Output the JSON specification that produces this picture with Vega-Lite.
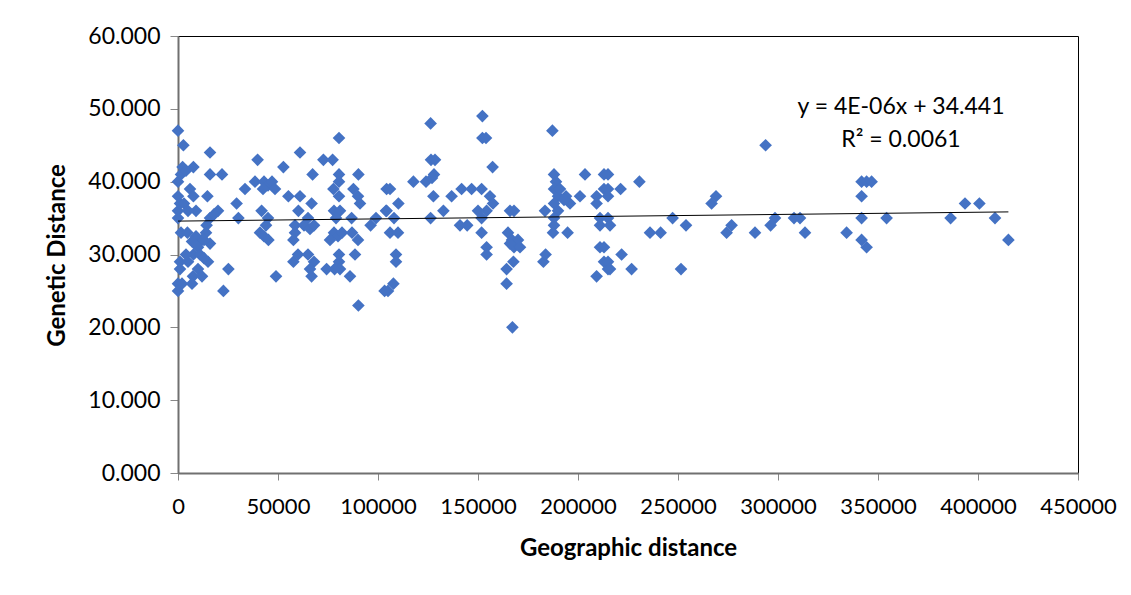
{
  "$schema": "https://vega.github.io/schema/vega-lite/v6.json",
  "autosize": {"type": "none"},
  "padding": {"left": 178, "top": 36, "right": 53, "bottom": 122},
  "width": 900,
  "height": 437,
  "background": "#ffffff",
  "config": {
    "view": {"stroke": "#000000", "strokeWidth": 1},
    "axis": {
      "grid": false,
      "domainColor": "#707070",
      "domainWidth": 2,
      "tickColor": "#888888",
      "tickSize": 7,
      "labelFont": "Lato",
      "labelFontSize": 22,
      "labelColor": "#000000",
      "titleFont": "Lato",
      "titleFontSize": 24,
      "titleFontWeight": "bold",
      "titleColor": "#000000"
    }
  },
  "datasets": {
    "pts": [
      {"geo":0,"gen":47},{"geo":2700,"gen":45},{"geo":16000,"gen":44},{"geo":2300,"gen":42},{"geo":7700,"gen":42},
      {"geo":0,"gen":40},{"geo":1500,"gen":41},{"geo":4000,"gen":41.5},{"geo":16000,"gen":41},{"geo":22000,"gen":41},
      {"geo":6000,"gen":39},{"geo":7700,"gen":38},{"geo":0,"gen":38},{"geo":14700,"gen":38},{"geo":0,"gen":36},
      {"geo":1000,"gen":37},{"geo":9000,"gen":36},{"geo":0,"gen":35},{"geo":20000,"gen":36},{"geo":16000,"gen":35},
      {"geo":14300,"gen":34},{"geo":1500,"gen":33},{"geo":4700,"gen":33},{"geo":9000,"gen":32.5},{"geo":12000,"gen":32},
      {"geo":14000,"gen":33},{"geo":16000,"gen":31.5},{"geo":7000,"gen":31.8},{"geo":10000,"gen":31},{"geo":13000,"gen":32},
      {"geo":7700,"gen":30},{"geo":15000,"gen":29},{"geo":1000,"gen":29},{"geo":1000,"gen":28},{"geo":5000,"gen":29},
      {"geo":10000,"gen":28},{"geo":7500,"gen":27},{"geo":12000,"gen":27},{"geo":0,"gen":26},{"geo":2000,"gen":26},
      {"geo":7000,"gen":26},{"geo":0,"gen":25},{"geo":25200,"gen":28},{"geo":22700,"gen":25},{"geo":3000,"gen":37},
      {"geo":5000,"gen":36},{"geo":18000,"gen":35.5},{"geo":11000,"gen":30},{"geo":13000,"gen":29.5},{"geo":4000,"gen":30},
      {"geo":30200,"gen":35},{"geo":29300,"gen":37},{"geo":33500,"gen":39},{"geo":39800,"gen":43},{"geo":38500,"gen":40},
      {"geo":43000,"gen":40},{"geo":45000,"gen":39.5},{"geo":47000,"gen":40},{"geo":48500,"gen":39},{"geo":42500,"gen":39},
      {"geo":52700,"gen":42},{"geo":61000,"gen":44},{"geo":41800,"gen":36},{"geo":45000,"gen":35},{"geo":41000,"gen":33},
      {"geo":43000,"gen":32.5},{"geo":45200,"gen":32},{"geo":44000,"gen":34},{"geo":49000,"gen":27},{"geo":55200,"gen":38},
      {"geo":61000,"gen":38},{"geo":67300,"gen":41},{"geo":66800,"gen":37},{"geo":60200,"gen":36},{"geo":65000,"gen":35},
      {"geo":58500,"gen":34},{"geo":58500,"gen":33},{"geo":57700,"gen":32},{"geo":63000,"gen":34},{"geo":66000,"gen":33.5},
      {"geo":68000,"gen":34},{"geo":57700,"gen":29},{"geo":60000,"gen":30},{"geo":65000,"gen":30},{"geo":68000,"gen":29},
      {"geo":66000,"gen":28},{"geo":66800,"gen":27},{"geo":72700,"gen":43},{"geo":77300,"gen":43},{"geo":80500,"gen":46},
      {"geo":80500,"gen":41},{"geo":77700,"gen":39},{"geo":80500,"gen":38},{"geo":80500,"gen":40},{"geo":87700,"gen":39},
      {"geo":90200,"gen":41},{"geo":90000,"gen":38},{"geo":91000,"gen":37},{"geo":78000,"gen":36},{"geo":81000,"gen":36},
      {"geo":79000,"gen":35},{"geo":86800,"gen":35},{"geo":78000,"gen":33},{"geo":80000,"gen":32.5},{"geo":82000,"gen":33},
      {"geo":76000,"gen":32},{"geo":87000,"gen":33},{"geo":90000,"gen":32},{"geo":80500,"gen":30},{"geo":80500,"gen":29},
      {"geo":81000,"gen":28},{"geo":74300,"gen":28},{"geo":78300,"gen":28},{"geo":86000,"gen":27},{"geo":88500,"gen":30},
      {"geo":90200,"gen":23},{"geo":96300,"gen":34},{"geo":99000,"gen":35},{"geo":104300,"gen":39},{"geo":104300,"gen":36},
      {"geo":106000,"gen":33},{"geo":105000,"gen":25},
      {"geo":126300,"gen":48},{"geo":152200,"gen":49},{"geo":152200,"gen":46},{"geo":154000,"gen":46},{"geo":187200,"gen":47},
      {"geo":126500,"gen":43},{"geo":128500,"gen":43},{"geo":157300,"gen":42},{"geo":128000,"gen":41},{"geo":124000,"gen":40},
      {"geo":117700,"gen":40},{"geo":127000,"gen":40.5},{"geo":106000,"gen":39},{"geo":127700,"gen":38},{"geo":136800,"gen":38},
      {"geo":141800,"gen":39},{"geo":146800,"gen":39},{"geo":151800,"gen":39},{"geo":156000,"gen":38},{"geo":157500,"gen":37},
      {"geo":154300,"gen":36},{"geo":110200,"gen":37},{"geo":104000,"gen":36},{"geo":108000,"gen":35},{"geo":110000,"gen":33},
      {"geo":126300,"gen":35},{"geo":132700,"gen":36},{"geo":141000,"gen":34},{"geo":144600,"gen":34},{"geo":151800,"gen":35},
      {"geo":151800,"gen":33},{"geo":154300,"gen":31},{"geo":154300,"gen":30},{"geo":109000,"gen":30},{"geo":109000,"gen":29},
      {"geo":107700,"gen":26},{"geo":103300,"gen":25},{"geo":166000,"gen":36},{"geo":168000,"gen":36},{"geo":165000,"gen":33},
      {"geo":167000,"gen":32},{"geo":170000,"gen":32},{"geo":168000,"gen":31},{"geo":166000,"gen":31.5},{"geo":171000,"gen":31},
      {"geo":167700,"gen":29},{"geo":164300,"gen":28},{"geo":164300,"gen":26},{"geo":167200,"gen":20},{"geo":182700,"gen":29},
      {"geo":183800,"gen":30},{"geo":183500,"gen":36},{"geo":188000,"gen":41},{"geo":189000,"gen":40},{"geo":188000,"gen":39},
      {"geo":190000,"gen":38},{"geo":188000,"gen":37},{"geo":190000,"gen":36},{"geo":188000,"gen":35},{"geo":188000,"gen":34},
      {"geo":187500,"gen":33},{"geo":191000,"gen":39},{"geo":194800,"gen":33},{"geo":194000,"gen":38},{"geo":196000,"gen":37},
      {"geo":201000,"gen":38},{"geo":203500,"gen":41},{"geo":209300,"gen":38},{"geo":209300,"gen":37},{"geo":213000,"gen":41},
      {"geo":213000,"gen":39},{"geo":211000,"gen":35},{"geo":211000,"gen":34},{"geo":211000,"gen":31},{"geo":213000,"gen":29},
      {"geo":215000,"gen":28},{"geo":209300,"gen":27},{"geo":193000,"gen":37.5},{"geo":150000,"gen":36},
      {"geo":293800,"gen":45},{"geo":215000,"gen":41},{"geo":215000,"gen":39},{"geo":215000,"gen":38},{"geo":221300,"gen":39},
      {"geo":230700,"gen":40},{"geo":215000,"gen":35},{"geo":216000,"gen":34},{"geo":213000,"gen":31},{"geo":215000,"gen":29},
      {"geo":216000,"gen":28},{"geo":221800,"gen":30},{"geo":226800,"gen":28},{"geo":236000,"gen":33},{"geo":241300,"gen":33},
      {"geo":247300,"gen":35},{"geo":254000,"gen":34},{"geo":251500,"gen":28},{"geo":269000,"gen":38},{"geo":266800,"gen":37},
      {"geo":276800,"gen":34},{"geo":274300,"gen":33},{"geo":288500,"gen":33},{"geo":298500,"gen":35},{"geo":296300,"gen":34},
      {"geo":308000,"gen":35},{"geo":311000,"gen":35},{"geo":313500,"gen":33},
      {"geo":341800,"gen":40},{"geo":344300,"gen":40},{"geo":346800,"gen":40},{"geo":341800,"gen":38},{"geo":341800,"gen":35},
      {"geo":334300,"gen":33},{"geo":341800,"gen":32},{"geo":344300,"gen":31},{"geo":354300,"gen":35},{"geo":386300,"gen":35},
      {"geo":393500,"gen":37},{"geo":400700,"gen":37},{"geo":408500,"gen":35},{"geo":415200,"gen":32}
    ],
    "eq": [
      {"geo":361500,"gen":50.3,"label":"y = 4E-06x + 34.441"},
      {"geo":361500,"gen":45.7,"label":"R² = 0.0061"}
    ]
  },
  "layer": [
    {
      "data": {"name": "pts"},
      "mark": {"type": "point", "shape": "diamond", "filled": true, "size": 160, "color": "#4472C4", "opacity": 1},
      "encoding": {
        "x": {"field": "geo", "type": "quantitative", "scale": {"domain": [0, 450000], "nice": false, "zero": false},
              "axis": {"title": "Geographic distance", "values": [0,50000,100000,150000,200000,250000,300000,350000,400000,450000], "format": "d", "labelFontSize": 22, "labelPadding": 16, "titlePadding": 19, "labelFlush": false}},
        "y": {"field": "gen", "type": "quantitative", "scale": {"domain": [0, 60], "nice": false},
              "axis": {"title": "Genetic Distance", "values": [0,10,20,30,40,50,60], "format": ".3f", "labelFontSize": 23, "labelPadding": 10, "tickSize": 8,
                       "titleX": -121, "titleY": 219, "titleAngle": -90, "titleAlign": "center", "titleBaseline": "middle"}}
      }
    },
    {
      "data": {"name": "pts"},
      "transform": [{"regression": "gen", "on": "geo"}],
      "mark": {"type": "line", "color": "#000000", "strokeWidth": 1},
      "encoding": {
        "x": {"field": "geo", "type": "quantitative"},
        "y": {"field": "gen", "type": "quantitative"}
      }
    },
    {
      "data": {"name": "eq"},
      "mark": {"type": "text", "font": "Lato", "fontSize": 23, "color": "#000000", "align": "center", "baseline": "middle"},
      "encoding": {
        "x": {"field": "geo", "type": "quantitative"},
        "y": {"field": "gen", "type": "quantitative"},
        "text": {"field": "label"}
      }
    }
  ]
}
